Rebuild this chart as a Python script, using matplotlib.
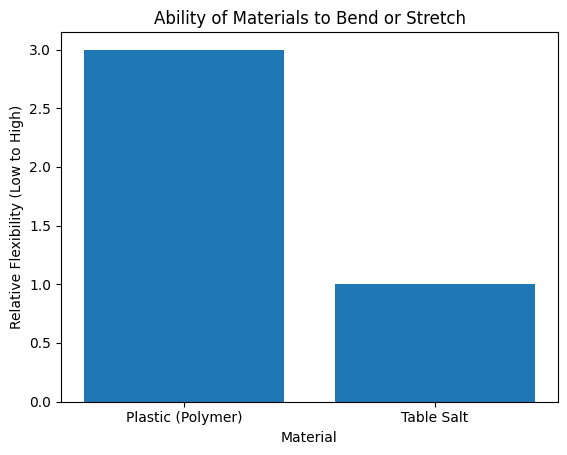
import matplotlib
matplotlib.use("Agg")
import matplotlib.pyplot as plt

materials = ["Plastic (Polymer)", "Table Salt"]
flexibility = [3, 1]

fig = plt.figure(figsize=(5.67, 4.55), dpi=100)
ax = fig.add_axes([61/567, 1-401.5/455, (558-61)/567, (401.5-32)/455])
ax.bar(materials, flexibility, color="#1f77b4")
ax.set_title("Ability of Materials to Bend or Stretch")
ax.set_xlabel("Material")
ax.set_ylabel("Relative Flexibility (Low to High)")
fig.savefig("out.png", dpi=100)
